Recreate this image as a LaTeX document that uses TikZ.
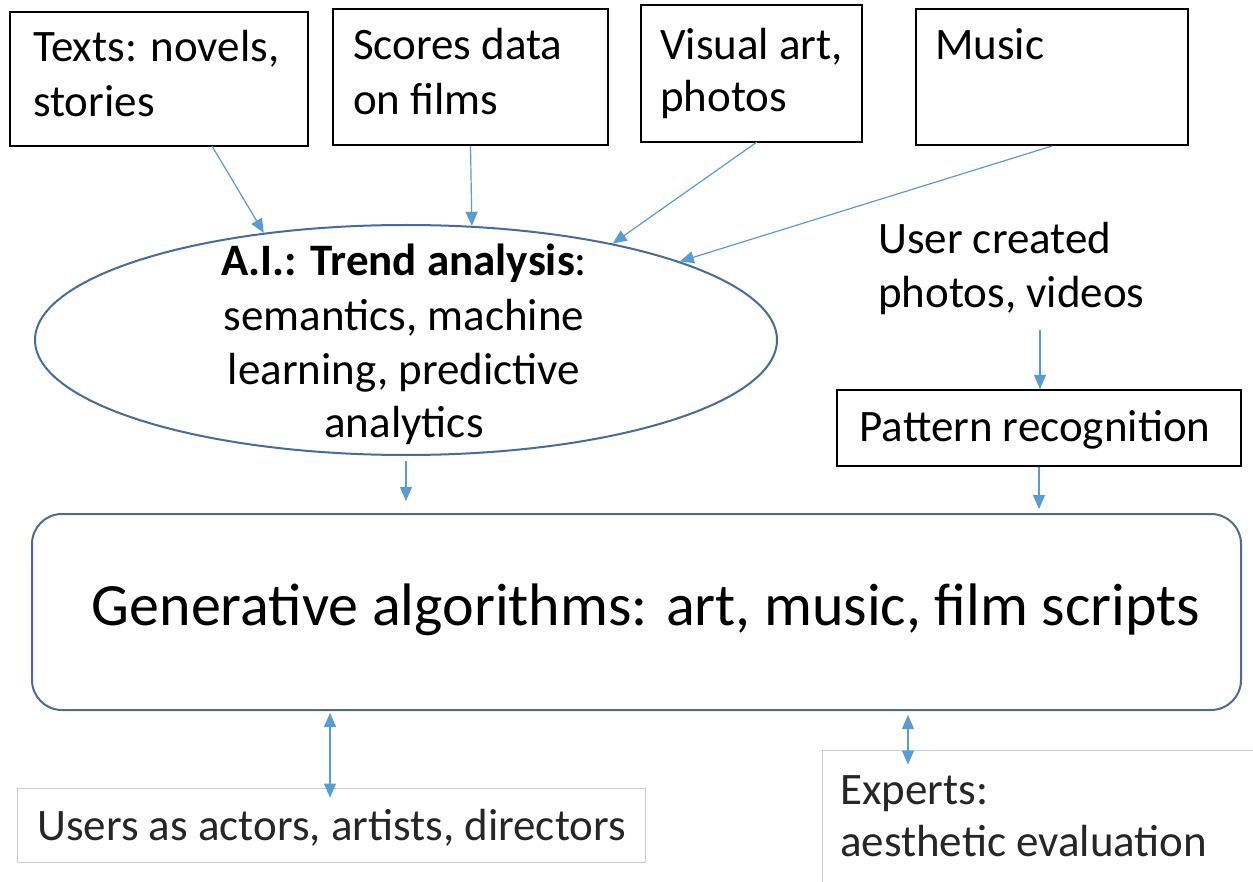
\documentclass[tikz,border=0pt]{standalone}
\usepackage{fontspec}
\setmainfont{Carlito}
\usetikzlibrary{arrows.meta,shapes.geometric}
\definecolor{arrowblue}{RGB}{91,155,213}
\definecolor{ovalblue}{RGB}{70,108,155}
\definecolor{coreblue}{RGB}{84,106,140}
\definecolor{framegray}{RGB}{205,205,205}
\tikzset{
  px/.style={x=1pt,y=-1pt},
  srcbox/.style={draw=black,line width=2pt,inner sep=0pt},
  lightbox/.style={draw=framegray,line width=1pt,inner sep=0pt},
  txt/.style={inner sep=0pt,anchor=base west,font=\fontsize{45}{55}\selectfont},
  ctxt/.style={inner sep=0pt,anchor=base,font=\fontsize{45}{55}\selectfont},
  tip/.style={Triangle[length=14pt,width=12pt]},
  flow/.style={draw=arrowblue,line width=1.2pt,-{Triangle[length=14pt,width=12pt]}},
  twoway/.style={draw=arrowblue,line width=1.2pt,{Triangle[length=14pt,width=12pt]}-{Triangle[length=14pt,width=12pt]}},
}
\begin{document}
\begin{tikzpicture}[px]
\useasboundingbox[fill=white] (0,0) rectangle (1253,882);

% input sources
\node[srcbox,minimum width=298pt,minimum height=134pt] (texts) at (159,79) {};
\node[txt] (textsT) at (33,62) {Texts: novels,};
\node[txt] (textsB) at (33,117) {stories};

\node[srcbox,minimum width=275pt,minimum height=136pt] (scores) at (470.5,77) {};
\node[txt] (scoresT) at (353,60) {Scores data};
\node[txt] (scoresB) at (353,115) {on films};

\node[srcbox,minimum width=221pt,minimum height=137pt] (visual) at (751.5,73.5) {};
\node[txt] (visualT) at (660,60) {Visual art,};
\node[txt] (visualB) at (660,112) {photos};

\node[srcbox,minimum width=272pt,minimum height=136pt] (music) at (1052,77) {};
\node[txt] (musicT) at (935,60) {Music};

% trend analysis oval
\node[draw=ovalblue,line width=2pt,ellipse,minimum width=742pt,minimum height=230pt,inner sep=0pt] (ai) at (406,340) {};
\node[ctxt] (ai1) at (404,276) {\textbf{A.I.: Trend analysis}:};
\node[ctxt] (ai2) at (404,331) {semantics, machine};
\node[ctxt] (ai3) at (404,385) {learning, predictive};
\node[ctxt] (ai4) at (404,438) {analytics};

% user content branch
\node[txt] (userT) at (878,254) {User created};
\node[txt] (userB) at (878,308) {photos, videos};
\node[srcbox,minimum width=404pt,minimum height=76pt] (pattern) at (1039,428) {};
\node[ctxt] (patternT) at (1035,442) {Pattern recognition};

% generative core
\node[draw=coreblue,line width=2pt,rounded corners=30pt,minimum width=1209pt,minimum height=196pt,inner sep=0pt] (gen) at (636.5,612) {};
\node[inner sep=0pt,anchor=base,font=\fontsize{60}{72}\selectfont] (genT) at (646,625) {Generative algorithms: art, music, film scripts};

% feedback participants
\node[lightbox,minimum width=628pt,minimum height=74pt] (users) at (331,825) {};
\node[txt,text=black!85] (usersT) at (37,840) {Users as actors, artists, directors};
\node[lightbox,minimum width=440pt,minimum height=140pt] (experts) at (1042,820) {};
\node[txt,text=black!85] (expertsT) at (840,804) {Experts:};
\node[txt,text=black!85] (expertsB) at (840,856) {aesthetic evaluation};

% helper coordinates for connector ends
\coordinate (textsOut) at (212,146);
\coordinate (visualOut) at (757,142);
\coordinate (userOut) at (1040,330);
\coordinate (usersLink) at (330,0);
\coordinate (expertsLink) at (908,0);

% sources feeding the trend analysis
\draw[flow] (textsOut) -- (ai.143.4);
\draw[flow] (scores.south) -- (ai.60.9);
\draw[flow] (visualOut) -- (ai.25.9);
\draw[flow] (music.south) -- (ai.16.5);

% into the generative core
\draw[flow,shorten <=5pt,shorten >=12pt] (ai.south) -- (ai.south |- gen.north);
\draw[flow] (userOut) -- (userOut |- pattern.north);
\draw[flow,shorten >=4pt] (pattern.south) -- (pattern.south |- gen.north);

% two-way exchange with people
\draw[twoway,shorten <=2pt,shorten >=-10pt] (gen.south -| usersLink) -- (users.north -| usersLink);
\draw[twoway,shorten <=4pt,shorten >=-15pt] (gen.south -| expertsLink) -- (experts.north -| expertsLink);
\end{tikzpicture}
\end{document}
